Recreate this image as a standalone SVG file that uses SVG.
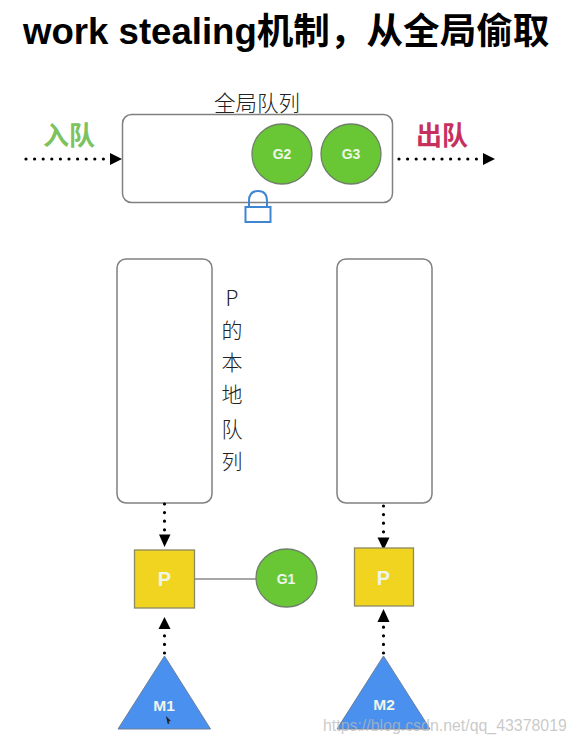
<svg xmlns="http://www.w3.org/2000/svg" width="576" height="743" viewBox="0 0 576 743">
<style>
.t{font-family:"Liberation Sans","Noto Sans CJK SC",sans-serif}
.c{font-family:"Noto Sans CJK SC","Liberation Sans",sans-serif;font-weight:300;fill:#222;text-anchor:middle}
.h{font-family:"Noto Sans CJK SC","Liberation Sans",sans-serif;font-weight:700;font-size:26px;text-anchor:middle}
.box{fill:#fff;stroke:#808080;stroke-width:1.5}
.g{fill:#69c735;stroke:#6f7f68;stroke-width:1.3}
.p{fill:#f0d420;stroke:#8c8a60;stroke-width:1.3}
.m{fill:#4a90ee;stroke:#6a7f9a;stroke-width:1}
.w{font-family:"Liberation Sans",sans-serif;font-weight:700;fill:#eef6ea;text-anchor:middle}
.d{fill:none;stroke:#000;stroke-width:3.2;stroke-linecap:round;stroke-dasharray:0 8.6}
</style>
<rect width="576" height="743" fill="#fff"/>
<text class="t" x="23" y="44" font-size="36.6" font-weight="700" fill="#000">work stealing机制，从全局偷取</text>

<g id="global-queue">
<rect class="box" x="122.500" y="114.500" width="270" height="88" rx="9"/>
<text class="c" x="257" y="111" font-size="21.500">全局队列</text>
</g>
<g id="lock" fill="none" stroke="#3f86d2" stroke-width="2">
<path d="M249 207V201Q249 191 258 191Q267 191 267 201V207"/>
<rect x="245.500" y="207" width="25" height="15" fill="#fff" fill-opacity="0.6"/>
</g>
<g id="G2"><circle class="g" cx="282" cy="154" r="30"/><text class="w" x="282" y="159" font-size="14">G2</text></g>
<g id="G3"><circle class="g" cx="351" cy="154" r="30"/><text class="w" x="351" y="159" font-size="14">G3</text></g>
<g id="enqueue"><text class="h" x="69" y="145" fill="#7cc25e">入队</text></g>
<g id="dequeue"><text class="h" x="442" y="145" fill="#c7305e">出队</text></g>

<g id="local-queue-1">
<rect class="box" x="117" y="259" width="95" height="244" rx="9"/>
</g>
<g id="local-queue-label">
<text class="c" x="232" y="306" font-size="21">P</text>
<text class="c" x="232" y="338" font-size="21">的</text>
<text class="c" x="232" y="370" font-size="21">本</text>
<text class="c" x="232" y="402" font-size="21">地</text>
<text class="c" x="232" y="437" font-size="21">队</text>
<text class="c" x="232" y="469" font-size="21">列</text>
</g>
<g id="local-queue-2">
<rect class="box" x="337" y="259" width="95" height="244" rx="9"/>
</g>

<g id="connectors">
<line x1="195" y1="579" x2="256" y2="579" stroke="#8a8a8a" stroke-width="1.500"/>
<path class="d" d="M26 159H106"/>
<path d="M110 153L122 159L110 165Z"/>
<path class="d" d="M399 159H479"/>
<path d="M483 153L495 159L483 165Z"/>
<path class="d" d="M164.500 504V533"/>
<path d="M159 534.500H170.500L164.500 547Z"/>
<path class="d" d="M383.500 506V534"/>
<path d="M377.500 537.500H389.500L383.500 550Z"/>
<path class="d" d="M164.500 653V632"/>
<path d="M158.500 629H170.500L164.500 617Z"/>
<path class="d" d="M383.500 653V626"/>
<path d="M377.500 622H389.500L383.500 609Z"/>
</g>

<g id="P1"><rect class="p" x="134.500" y="550" width="60" height="58"/><text class="w" x="164.500" y="586" font-size="20">P</text></g>
<g id="P2"><rect class="p" x="354.500" y="548" width="59" height="58"/><text class="w" x="383.500" y="585" font-size="20">P</text></g>
<g id="G1"><ellipse class="g" cx="286.500" cy="578" rx="30.500" ry="29"/><text class="w" x="286" y="584" font-size="14">G1</text></g>
<g id="M1"><path class="m" d="M164.500 656L210.500 729H118Z"/><text class="w" x="164" y="711" font-size="15.500">M1</text>
<path d="M166 716L171 721L168.500 721.500L169.500 724L167.500 723.500Z" fill="#222"/></g>
<g id="M2"><path class="m" d="M383.500 656L430 729H337Z"/><text class="w" x="384" y="710" font-size="15.500">M2</text></g>
<text class="t" x="323" y="731" font-size="15.900" fill="#b8b8b8" fill-opacity="0.75">https://blog.csdn.net/qq_43378019</text>
</svg>
